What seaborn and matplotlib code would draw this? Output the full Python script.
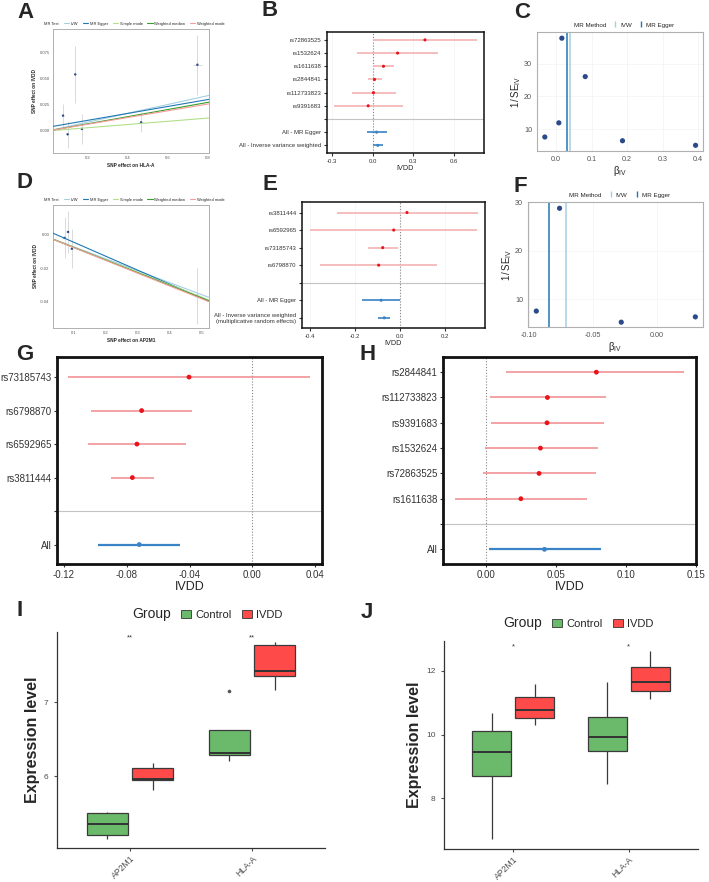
import numpy as np
import pandas as pd
import matplotlib
matplotlib.use('Agg')
import matplotlib.pyplot as plt
from matplotlib.lines import Line2D
from matplotlib.patches import Patch
from matplotlib.ticker import FormatStrFormatter
import seaborn as sns

sns.set_theme(style='white')
plt.rcParams['font.family'] = ['Liberation Sans', 'DejaVu Sans']
plt.rcParams['mathtext.fontset'] = 'custom'
plt.rcParams['mathtext.rm'] = 'Liberation Sans'
plt.rcParams['mathtext.it'] = 'Liberation Sans:italic'

# ---------------- data ----------------
mr_methods = ['IVW', 'MR Egger', 'Simple mode', 'Weighted median', 'Weighted mode']
mr_colors = ['#A6CEE3', '#1F78B4', '#B2DF8A', '#33A02C', '#FB9A99']

# Panel A (HLA-A scatter)
a_bx = [0.076, 0.099, 0.137, 0.170, 0.466, 0.747]
a_by = [0.0146, -0.0032, 0.0538, 0.0019, 0.0082, 0.063]
a_sx = [0.006, 0.006, 0.006, 0.006, 0.010, 0.023]
a_sy = [0.0114, 0.013, 0.027, 0.014, 0.0095, 0.0285]
a_slopes = [0.042, 0.033, 0.0153, 0.034, 0.032]
a_intercepts = [0.0, 0.0035, 0.0, 0.0, 0.0]

# Panel D (AP2M1 scatter)
d_bx = [0.070, 0.081, 0.093, 0.485]
d_by = [-0.0018, 0.0018, -0.0083, -0.0367]
d_sx = [0.004, 0.004, 0.004, 0.004]
d_sy = [0.0123, 0.0128, 0.0116, 0.0168]
d_slopes = [-0.072, -0.084, -0.075, -0.076, -0.077]
d_intercepts = [0.0, 0.0039, 0.0, 0.0, 0.0]

# Panel C (HLA-A funnel)
c_beta = [-0.032, 0.0075, 0.016, 0.082, 0.187, 0.393]
c_inv_se = [7.55, 11.9, 37.9, 26.1, 6.4, 5.0]
c_ivw, c_egger = 0.038, 0.030

# Panel F (AP2M1 funnel)
f_beta = [-0.0945, -0.0763, -0.028, 0.030]
f_inv_se = [7.5, 28.8, 5.2, 6.3]
f_ivw, f_egger = -0.0716, -0.0846

# Panel B forest
b_snps = ['rs72863525', 'rs1532624', 'rs1611638', 'rs2844841', 'rs112733823', 'rs9391683']
b_snp_b = [0.387, 0.185, 0.081, 0.015, 0.007, -0.032]
b_snp_lo = [0.005, -0.118, 0.005, -0.034, -0.153, -0.286]
b_snp_hi = [0.768, 0.485, 0.158, 0.069, 0.170, 0.227]
b_sum_labels = ['All - MR Egger', 'All - Inverse variance weighted']
b_sum_b = [0.030, 0.039]
b_sum_lo = [-0.044, 0.005]
b_sum_hi = [0.108, 0.079]

# Panel E forest
e_snps = ['rs3811444', 'rs6592965', 'rs73185743', 'rs6798870']
e_snp_b = [0.031, -0.028, -0.077, -0.095]
e_snp_lo = [-0.281, -0.400, -0.144, -0.356]
e_snp_hi = [0.348, 0.344, -0.007, 0.166]
e_sum_labels = ['All - MR Egger', 'All - Inverse variance weighted\n(multiplicative random effects)']
e_sum_b = [-0.084, -0.070]
e_sum_lo = [-0.170, -0.096]
e_sum_hi = [0.000, -0.044]

# Panel G forest (AP2M1)
g_snps = ['rs73185743', 'rs6798870', 'rs6592965', 'rs3811444']
g_snp_b = [-0.0403, -0.0705, -0.0735, -0.0764]
g_snp_lo = [-0.1174, -0.1030, -0.1045, -0.0898]
g_snp_hi = [0.037, -0.0382, -0.0425, -0.0628]
g_all = [-0.072, -0.0983, -0.0459]

# Panel H forest (HLA-A)
h_snps = ['rs2844841', 'rs112733823', 'rs9391683', 'rs1532624', 'rs72863525', 'rs1611638']
h_snp_b = [0.079, 0.044, 0.0437, 0.039, 0.038, 0.025]
h_snp_lo = [0.0146, 0.0028, 0.0035, -0.001, -0.0023, -0.022]
h_snp_hi = [0.142, 0.0856, 0.0844, 0.080, 0.0786, 0.0726]
h_all = [0.0419, 0.0019, 0.082]

# Panels I / J boxplots
genes = ['AP2M1', 'HLA-A']
groups = ['Control', 'IVDD']
group_colors = {'Control': '#6BB96B', 'IVDD': '#FF4A4A'}
i_ap2m1_control = [5.15, 5.20, 5.35, 5.50, 5.52]
i_ap2m1_ivdd = [5.81, 5.95, 5.96, 6.11, 6.18]
i_hlaa_control = [6.21, 6.29, 6.32, 6.63, 7.15]
i_hlaa_ivdd = [7.17, 7.35, 7.42, 7.78, 7.81]
i_sig = ['**', '**']
j_ap2m1_control = [6.71, 8.71, 9.44, 10.11, 10.67]
j_ap2m1_ivdd = [10.30, 10.53, 10.77, 11.17, 11.60]
j_hlaa_control = [8.44, 9.48, 9.93, 10.54, 11.65]
j_hlaa_ivdd = [11.11, 11.36, 11.64, 12.13, 12.63]
j_sig = ['*', '*']

# ---------------- figure ----------------
W, H = 709, 882
fig = plt.figure(figsize=(W / 100, H / 100), dpi=100)


def add_ax(x0, y0, x1, y1):
    return fig.add_axes([x0 / W, 1 - y1 / H, (x1 - x0) / W, (y1 - y0) / H])


def panel_label(x, y, s):
    fig.text(x / W, 1 - y / H, s, fontsize=16, fontweight='bold', ha='center', va='center')


def style_border(ax, color, lw):
    for sp in ax.spines.values():
        sp.set_visible(True)
        sp.set_color(color)
        sp.set_linewidth(lw)


def scatter_panel(ax, bx, by, sx, sy, slopes, intercepts, xlim, ylim, xticks, yticks, xfmt, yfmt, xlab):
    ax.errorbar(bx, by, xerr=sx, yerr=sy, fmt='none', ecolor='#d4d4d4', elinewidth=0.6, zorder=1)
    sns.scatterplot(x=bx, y=by, ax=ax, color='#2B4A8B', s=3, edgecolor='none', zorder=2)
    for m, c, b, a in zip(mr_methods, mr_colors, slopes, intercepts):
        ax.axline((0, a), slope=b, color=c, lw=0.8, zorder=3)
    ax.set_xlim(*xlim)
    ax.set_ylim(*ylim)
    ax.set_xticks(xticks)
    ax.set_yticks(yticks)
    ax.xaxis.set_major_formatter(FormatStrFormatter(xfmt))
    ax.yaxis.set_major_formatter(FormatStrFormatter(yfmt))
    ax.tick_params(labelsize=3, colors='#555555', length=1.5, width=0.4, pad=1)
    ax.set_xlabel(xlab, fontsize=3.4, fontweight='bold', labelpad=1.5)
    ax.set_ylabel('SNP effect on IVDD', fontsize=3.4, fontweight='bold', labelpad=1.5)
    style_border(ax, '#b0b0b0', 0.7)
    handles = [Line2D([], [], ls='none', label='MR Test')]
    handles += [Line2D([], [], color=c, lw=0.8, label=m) for m, c in zip(mr_methods, mr_colors)]
    ax.legend(handles=handles, loc='lower center', bbox_to_anchor=(0.5, 1.0), ncol=6, fontsize=2.9,
              frameon=False, handlelength=1.3, handletextpad=0.4, columnspacing=1.2, borderaxespad=0.4)


def funnel_panel(ax, beta, inv_se, ivw, egger, xlim, ylim, xticks, yticks, xfmt):
    ax.set_xlim(*xlim)
    ax.set_ylim(*ylim)
    ax.set_xticks(xticks)
    ax.set_yticks(yticks)
    ax.grid(axis='both', color='#f3f3f3', lw=0.5)
    ax.axvline(egger, color='#1F78B4', lw=1.1, zorder=2)
    ax.axvline(ivw, color='#A6CEE3', lw=1.1, zorder=2)
    sns.scatterplot(x=beta, y=inv_se, ax=ax, color='#2B4A8B', s=14, edgecolor='none', zorder=3)
    ax.xaxis.set_major_formatter(FormatStrFormatter(xfmt))
    ax.tick_params(labelsize=5.2, colors='#555555', length=2, width=0.5, pad=1.5)
    ax.set_xlabel(r'$\mathrm{\beta_{IV}}$', fontsize=7, labelpad=1)
    ax.set_ylabel(r'$\mathrm{1\,/\,SE_{IV}}$', fontsize=7, labelpad=1)
    style_border(ax, '#b0b0b0', 0.8)
    handles = [Line2D([], [], ls='none', label='MR Method'),
               Line2D([], [], ls='none', marker='|', markersize=5, markeredgewidth=1, color='#A6CEE3', label='IVW'),
               Line2D([], [], ls='none', marker='|', markersize=5, markeredgewidth=1, color='#1F78B4', label='MR Egger')]
    ax.legend(handles=handles, loc='lower center', bbox_to_anchor=(0.5, 1.0), ncol=3, fontsize=4.5,
              frameon=False, handlelength=1.0, handletextpad=0.3, columnspacing=1.0, borderaxespad=0.3)


def forest_panel(ax, snp_labels, snp_b, snp_lo, snp_hi, sum_labels, sum_b, sum_lo, sum_hi,
                 xlim, xticks, xfmt, ci_color, ci_lw, pt_size, sum_lw, tick_fs, xlab_fs,
                 border_lw, grid):
    k = len(snp_labels)
    labels = snp_labels + [''] + sum_labels
    pos_snp = list(range(k))
    pos_sum = [k + 1 + i for i in range(len(sum_labels))]
    if grid:
        ax.grid(axis='x', color='#f3f3f3', lw=0.5)
    ax.axhline(k, color='#c4c4c4', lw=0.8, zorder=1)
    ax.axvline(0, color='#888888', lw=0.8, ls=(0, (1, 1.6)), zorder=1)
    ax.hlines(pos_snp, snp_lo, snp_hi, color=ci_color, lw=ci_lw, zorder=2)
    ax.hlines(pos_sum, sum_lo, sum_hi, color='#3A83C6', lw=sum_lw, zorder=2)
    df = pd.DataFrame({'b': snp_b + sum_b, 'pos': pos_snp + pos_sum,
                       'kind': ['snp'] * k + ['sum'] * len(sum_b)})
    sns.scatterplot(data=df, x='b', y='pos', hue='kind', palette={'snp': '#E8141A', 'sum': '#3A83C6'},
                    s=pt_size, edgecolor='none', legend=False, ax=ax, zorder=3)
    ax.set_yticks(range(len(labels)))
    ax.set_yticklabels(labels)
    ax.set_ylim(len(labels) - 1 + 0.58, -0.6)
    ax.set_xlim(*xlim)
    ax.set_xticks(xticks)
    ax.xaxis.set_major_formatter(FormatStrFormatter(xfmt))
    ax.set_ylabel('')
    ax.set_xlabel('IVDD', fontsize=xlab_fs, labelpad=1)
    ax.tick_params(labelsize=tick_fs, colors='#333333', length=2.5, width=0.8, pad=1.5, left=True, bottom=True)
    style_border(ax, '#111111', border_lw)


def box_panel(ax, ap_c, ap_i, hl_c, hl_i, ylim, yticks, sig, sig_y):
    vals = ap_c + ap_i + hl_c + hl_i
    gene_col = [genes[0]] * (len(ap_c) + len(ap_i)) + [genes[1]] * (len(hl_c) + len(hl_i))
    grp_col = ([groups[0]] * len(ap_c) + [groups[1]] * len(ap_i) +
               [groups[0]] * len(hl_c) + [groups[1]] * len(hl_i))
    df = pd.DataFrame({'value': vals, 'gene': gene_col, 'group': grp_col})
    sns.boxplot(data=df, x='gene', y='value', hue='group', order=genes, hue_order=groups,
                palette=group_colors, saturation=1, width=0.75, gap=0.1, linewidth=0.9,
                linecolor='#3a3a3a', showcaps=False,
                medianprops=dict(linewidth=1.4, color='#333333'),
                flierprops=dict(marker='o', markerfacecolor='#555555', markeredgecolor='none', markersize=2.6),
                legend=False, ax=ax)
    ax.set_xlim(-0.6, 1.6)
    ax.set_ylim(*ylim)
    ax.set_yticks(yticks)
    for xi, s in enumerate(sig):
        ax.text(xi, sig_y, s, ha='center', va='center', fontsize=5.5, color='#333333')
    ax.set_xlabel('')
    ax.set_ylabel('Expression level', fontsize=11.5, fontweight='bold', labelpad=3)
    for side in ['top', 'right']:
        ax.spines[side].set_visible(False)
    for side in ['left', 'bottom']:
        ax.spines[side].set_visible(True)
        ax.spines[side].set_color('#333333')
        ax.spines[side].set_linewidth(0.9)
    ax.tick_params(axis='both', labelsize=6, colors='#4d4d4d', length=2.5, width=0.8, left=True, bottom=True)
    ax.tick_params(axis='x', labelsize=6.2, pad=2)
    plt.setp(ax.get_xticklabels(), rotation=45, ha='right', rotation_mode='anchor')


def group_legend(xc, yc):
    handles = [Patch(facecolor='none', edgecolor='none', label='Group'),
               Patch(facecolor=group_colors['Control'], edgecolor='#333333', linewidth=0.6, label='Control'),
               Patch(facecolor=group_colors['IVDD'], edgecolor='#333333', linewidth=0.6, label='IVDD')]
    leg = fig.legend(handles=handles, loc='center', bbox_to_anchor=(xc / W, 1 - yc / H), ncol=3,
                     fontsize=8, frameon=False, handlelength=0.9, handleheight=0.7,
                     handletextpad=0.4, columnspacing=0.9)
    leg.get_texts()[0].set_fontsize(10)
    leg.legend_handles[0].set_width(0)


# A
axA = add_ax(53, 29, 209, 153)
scatter_panel(axA, a_bx, a_by, a_sx, a_sy, a_slopes, a_intercepts, (0.026, 0.805), (-0.021, 0.097),
              [0.2, 0.4, 0.6, 0.8], [0.0, 0.025, 0.05, 0.075], '%.1f', '%.3f', 'SNP effect on HLA-A')
# D
axD = add_ax(53, 205, 209, 328)
scatter_panel(axD, d_bx, d_by, d_sx, d_sy, d_slopes, d_intercepts, (0.034, 0.522), (-0.056, 0.018),
              [0.1, 0.2, 0.3, 0.4, 0.5], [-0.04, -0.02, 0.0], '%.1f', '%.2f', 'SNP effect on AP2M1')
# C
axC = add_ax(537, 32, 703, 151)
funnel_panel(axC, c_beta, c_inv_se, c_ivw, c_egger, (-0.054, 0.414), (3.25, 39.8),
             [0.0, 0.1, 0.2, 0.3, 0.4], [10, 20, 30], '%.1f')
# F
axF = add_ax(528, 202, 703, 327)
funnel_panel(axF, f_beta, f_inv_se, f_ivw, f_egger, (-0.101, 0.036), (4.2, 30.1),
             [-0.10, -0.05, 0.0], [10, 20, 30], '%.2f')
# B
axB = add_ax(327, 32, 484, 153)
forest_panel(axB, b_snps, b_snp_b, b_snp_lo, b_snp_hi, b_sum_labels, b_sum_b, b_sum_lo, b_sum_hi,
             (-0.336, 0.823), [-0.3, 0.0, 0.3, 0.6], '%.1f', '#F5B3B3', 1.2, 5, 1.2, 4.3, 5.2, 1.1, True)
# E
axE = add_ax(302, 202, 485, 328)
forest_panel(axE, e_snps, e_snp_b, e_snp_lo, e_snp_hi, e_sum_labels, e_sum_b, e_sum_lo, e_sum_hi,
             (-0.436, 0.378), [-0.4, -0.2, 0.0, 0.2], '%.1f', '#F5B3B3', 1.2, 5, 1.2, 4.3, 5.2, 1.1, True)
# G
axG = add_ax(57, 357, 322, 564)
forest_panel(axG, g_snps, g_snp_b, g_snp_lo, g_snp_hi, ['All'], [g_all[0]], [g_all[1]], [g_all[2]],
             (-0.1244, 0.0444), [-0.12, -0.08, -0.04, 0.0, 0.04], '%.2f', '#F0898B', 1.1, 12, 1.6,
             7, 9, 2.0, False)
# H
axH = add_ax(443, 357, 696, 564)
forest_panel(axH, h_snps, h_snp_b, h_snp_lo, h_snp_hi, ['All'], [h_all[0]], [h_all[1]], [h_all[2]],
             (-0.0307, 0.1503), [0.0, 0.05, 0.10, 0.15], '%.2f', '#F0898B', 1.1, 12, 1.6,
             7, 9, 2.0, False)
# I
axI = add_ax(57, 632, 325, 848)
box_panel(axI, i_ap2m1_control, i_ap2m1_ivdd, i_hlaa_control, i_hlaa_ivdd, (5.03, 7.95), [6, 7], i_sig, 7.865)
group_legend(200, 614)
# J
axJ = add_ax(444, 641, 698, 849)
box_panel(axJ, j_ap2m1_control, j_ap2m1_ivdd, j_hlaa_control, j_hlaa_ivdd, (6.4, 12.94), [8, 10, 12], j_sig, 12.76)
group_legend(571, 623)

for s, x, y in [('A', 25, 12), ('B', 270, 10), ('C', 522, 12), ('D', 25, 183), ('E', 270, 185),
                ('F', 520, 187), ('G', 25, 355), ('H', 368, 355), ('I', 20, 610), ('J', 367, 612)]:
    panel_label(x, y, s)

fig.savefig('out.png', dpi=100)
